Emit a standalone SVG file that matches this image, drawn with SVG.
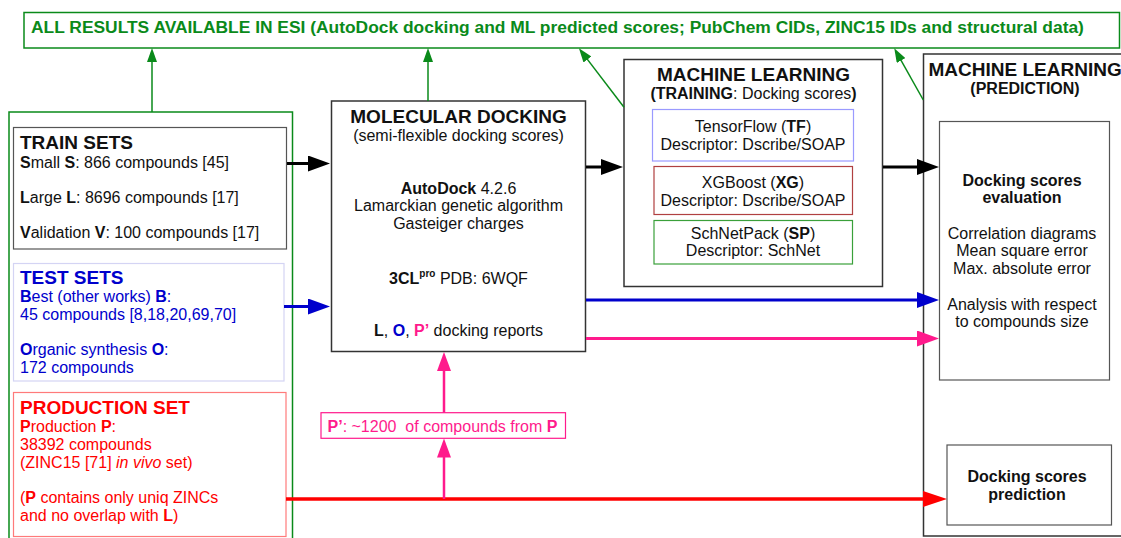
<svg xmlns="http://www.w3.org/2000/svg" width="1121" height="538" viewBox="0 0 1121 538">
<style>
text{font-family:"Liberation Sans",Arial,sans-serif;font-size:16px;fill:#111}
.b{font-weight:bold}
.t19{font-size:19px;font-weight:bold}
.mid{text-anchor:middle}
.green{fill:#0a8a1a}
.blue{fill:#0000cc}
.red{fill:#ff0000}
.pink{fill:#ff1a8c}
.box{fill:#fff;stroke:#333;stroke-width:1.5}
.inner{fill:#fff;stroke:#555;stroke-width:1.2}
.gl{stroke:#0a8a1a;stroke-width:1.5;fill:none}
</style>
<defs>
<marker id="aBlack" markerUnits="userSpaceOnUse" markerWidth="22" markerHeight="16" refX="12" refY="8" orient="auto"><path d="M0,0 L22,8 L0,16 z" fill="#000"/></marker>
<marker id="aBlue" markerUnits="userSpaceOnUse" markerWidth="22" markerHeight="16" refX="12" refY="8" orient="auto"><path d="M0,0 L22,8 L0,16 z" fill="#0000cc"/></marker>
<marker id="aPink" markerUnits="userSpaceOnUse" markerWidth="22" markerHeight="16" refX="12" refY="8" orient="auto"><path d="M0,0 L22,8 L0,16 z" fill="#ff1a8c"/></marker>
<marker id="aRed" markerUnits="userSpaceOnUse" markerWidth="24" markerHeight="16" refX="12" refY="8" orient="auto"><path d="M0,0 L24,8 L0,16 z" fill="#ff0000"/></marker>
<marker id="aPinkV" markerUnits="userSpaceOnUse" markerWidth="19" markerHeight="14" refX="9" refY="7" orient="auto"><path d="M0,0 L19,7 L0,14 z" fill="#ff1a8c"/></marker>
<marker id="aGreen" markerUnits="userSpaceOnUse" markerWidth="14" markerHeight="10" refX="7" refY="5" orient="auto"><path d="M0,0 L14,5 L0,10 z" fill="#0a8a1a"/></marker>
</defs>
<rect width="1121" height="538" fill="#fff"/>

<g id="esi">
<rect x="24" y="12.5" width="1095.5" height="35.5" fill="#fff" stroke="#0a8a1a" stroke-width="1.5"/>
<text x="31" y="32.5" class="b green" style="font-size:17.4px">ALL RESULTS AVAILABLE IN ESI (AutoDock docking and ML predicted scores; PubChem CIDs, ZINC15 IDs and structural data)</text>
</g>

<g id="inputs">
<rect x="9" y="112" width="283.5" height="440" fill="none" stroke="#0a8a1a" stroke-width="1.5"/>
</g>

<g id="train-sets">
<rect x="13.5" y="127.5" width="273" height="121.5" fill="#fff" stroke="#555" stroke-width="1.2"/>
<text x="20" y="148.5" class="t19">TRAIN SETS</text>
<text x="20" y="167.5"><tspan class="b">S</tspan>mall <tspan class="b">S</tspan>: 866 compounds [45]</text>
<text x="20" y="202.5"><tspan class="b">L</tspan>arge <tspan class="b">L</tspan>: 8696 compounds [17]</text>
<text x="20" y="237.5"><tspan class="b">V</tspan>alidation <tspan class="b">V</tspan>: 100 compounds [17]</text>
</g>

<g id="test-sets">
<rect x="13.5" y="263.5" width="270.5" height="117.5" fill="#fff" stroke="#d4d4f4" stroke-width="1.2"/>
<text x="20" y="283.5" class="t19 blue">TEST SETS</text>
<text x="20" y="301.5" class="blue"><tspan class="b">B</tspan>est (other works) <tspan class="b">B</tspan>:</text>
<text x="20" y="319.5" class="blue">45 compounds [8,18,20,69,70]</text>
<text x="20" y="354.5" class="blue"><tspan class="b">O</tspan>rganic synthesis <tspan class="b">O</tspan>:</text>
<text x="20" y="372.5" class="blue">172 compounds</text>
</g>

<g id="production-set">
<rect x="13.5" y="392.5" width="272.5" height="144" fill="#fff" stroke="#ff7a7a" stroke-width="1.2"/>
<text x="20" y="413.5" class="t19 red">PRODUCTION SET</text>
<text x="20" y="431.5" class="red"><tspan class="b">P</tspan>roduction <tspan class="b">P</tspan>:</text>
<text x="20" y="449.5" class="red">38392 compounds</text>
<text x="20" y="467.5" class="red">(ZINC15 [71] <tspan font-style="italic">in vivo</tspan> set)</text>
<text x="20" y="502.5" class="red">(<tspan class="b">P</tspan> contains only uniq ZINCs</text>
<text x="20" y="520.5" class="red">and no overlap with <tspan class="b">L</tspan>)</text>
</g>

<g id="molecular-docking">
<rect x="331.5" y="101" width="254" height="250.5" class="box"/>
<text x="458.5" y="122.5" class="t19 mid">MOLECULAR DOCKING</text>
<text x="458.5" y="140.5" class="mid">(semi-flexible docking scores)</text>
<text x="458.5" y="193.5" class="mid"><tspan class="b">AutoDock</tspan> 4.2.6</text>
<text x="458.5" y="211" class="mid">Lamarckian genetic algorithm</text>
<text x="458.5" y="228.5" class="mid">Gasteiger charges</text>
<text x="458.5" y="283.5" class="mid"><tspan class="b">3CL</tspan><tspan class="b" dy="-7" style="font-size:10px">pro</tspan><tspan dy="7"> PDB: 6WQF</tspan></text>
<text x="458.5" y="336" class="mid"><tspan class="b">L</tspan>, <tspan class="b blue">O</tspan>, <tspan class="b pink">P’</tspan> docking reports</text>
</g>

<g id="ml-training">
<rect x="624" y="59.5" width="258.5" height="227" class="box"/>
<text x="753.5" y="80.5" class="t19 mid">MACHINE LEARNING</text>
<text x="753.5" y="98.5" class="mid"><tspan class="b">(TRAINING</tspan>: Docking scores<tspan class="b">)</tspan></text>
</g>

<g id="tensorflow">
<rect x="652.5" y="109.5" width="201" height="51.5" fill="#fff" stroke="#9a9aff" stroke-width="1.2"/>
<text x="753" y="131.5" class="mid">TensorFlow (<tspan class="b">TF</tspan>)</text>
<text x="753" y="149.5" class="mid">Descriptor: Dscribe/SOAP</text>
</g>

<g id="xgboost">
<rect x="654" y="166.5" width="198.5" height="48" fill="#fff" stroke="#b04040" stroke-width="1.2"/>
<text x="753" y="188" class="mid">XGBoost (<tspan class="b">XG</tspan>)</text>
<text x="753" y="206" class="mid">Descriptor: Dscribe/SOAP</text>
</g>

<g id="schnetpack">
<rect x="654" y="220.5" width="198.5" height="43.5" fill="#fff" stroke="#3aa03a" stroke-width="1.2"/>
<text x="753" y="238.5" class="mid">SchNetPack (<tspan class="b">SP</tspan>)</text>
<text x="753" y="256" class="mid">Descriptor: SchNet</text>
</g>

<g id="ml-prediction">
<rect x="923.5" y="54" width="220" height="482" class="box"/>
<text x="928.5" y="75.5" class="t19">MACHINE LEARNING</text>
<text x="1025" y="93.5" class="b mid">(PREDICTION)</text>
</g>

<g id="evaluation">
<rect x="939.5" y="121.5" width="170" height="258.5" class="inner"/>
<text x="1022" y="185.5" class="b mid">Docking scores</text>
<text x="1022" y="203" class="b mid">evaluation</text>
<text x="1022" y="238.5" class="mid">Correlation diagrams</text>
<text x="1022" y="256" class="mid">Mean square error</text>
<text x="1022" y="273.5" class="mid">Max. absolute error</text>
<text x="1022" y="309.5" class="mid">Analysis with respect</text>
<text x="1022" y="327" class="mid">to compounds size</text>
</g>

<g id="prediction">
<rect x="947" y="445" width="164.5" height="80" class="inner"/>
<text x="1027" y="482" class="b mid">Docking scores</text>
<text x="1027" y="499.5" class="b mid">prediction</text>
</g>

<g id="p-prime">
<rect x="321" y="412.7" width="244.5" height="25.6" fill="#fff" stroke="#ff1a8c" stroke-width="1.2"/>
<text x="327.5" y="431.5" class="pink" style="white-space:pre"><tspan class="b">P’</tspan>: ~1200  of compounds from <tspan class="b">P</tspan></text>
</g>

<g id="connectors">
<line x1="152" y1="112" x2="152" y2="55" class="gl" marker-end="url(#aGreen)"/>
<line x1="428" y1="101" x2="428" y2="55" class="gl" marker-end="url(#aGreen)"/>
<line x1="624" y1="107.3" x2="583.2" y2="53.9" class="gl" marker-end="url(#aGreen)"/>
<line x1="923.3" y1="100" x2="897.7" y2="54.4" class="gl" marker-end="url(#aGreen)"/>
<line x1="287" y1="163.5" x2="320" y2="163.5" stroke="#000" stroke-width="3" marker-end="url(#aBlack)"/>
<line x1="284" y1="306.5" x2="320" y2="306.5" stroke="#0000cc" stroke-width="3" marker-end="url(#aBlue)"/>
<line x1="586" y1="167" x2="613" y2="167" stroke="#000" stroke-width="3" marker-end="url(#aBlack)"/>
<line x1="883" y1="167" x2="929" y2="167" stroke="#000" stroke-width="3" marker-end="url(#aBlack)"/>
<line x1="586" y1="300" x2="929" y2="300" stroke="#0000cc" stroke-width="3" marker-end="url(#aBlue)"/>
<line x1="586" y1="338.5" x2="929" y2="338.5" stroke="#ff1a8c" stroke-width="3" marker-end="url(#aPink)"/>
<line x1="286" y1="499" x2="935" y2="499" stroke="#ff0000" stroke-width="3.5" marker-end="url(#aRed)"/>
<line x1="444" y1="499" x2="444" y2="448.5" stroke="#ff1a8c" stroke-width="2.5" marker-end="url(#aPinkV)"/>
<line x1="444" y1="412.7" x2="444" y2="362" stroke="#ff1a8c" stroke-width="2.5" marker-end="url(#aPinkV)"/>
</g>
</svg>
